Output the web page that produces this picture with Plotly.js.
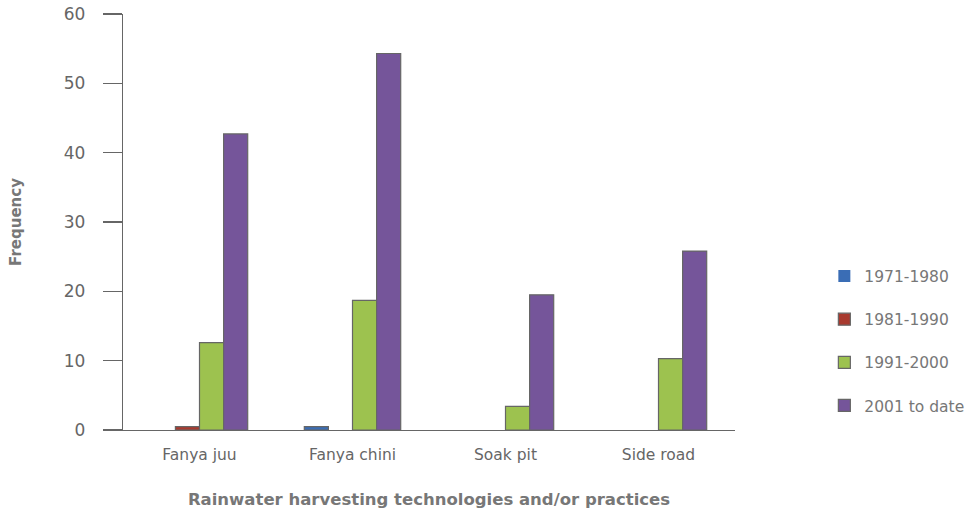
<!DOCTYPE html>
<html>
<head>
<meta charset="utf-8">
<script src="https://cdn.plot.ly/plotly-3.0.1.min.js"></script>
<style>html,body{margin:0;padding:0;background:#fff;}#chart{width:968px;height:512px;}</style>
</head>
<body>
<div id="chart"></div>
<script>
var categories = ["Fanya juu", "Fanya chini", "Soak pit", "Side road"];
var seriesNames = ["1971-1980", "1981-1990", "1991-2000", "2001 to date"];
var s1971 = [0, 0.5, 0, 0];
var s1981 = [0.5, 0, 0, 0];
var s1991 = [12.6, 18.7, 3.4, 10.3];
var s2001 = [42.7, 54.3, 19.5, 25.8];
var colors = ["#3A6DB5", "#A83A2F", "#9DC24F", "#75559A"];
var yTicks = [0, 10, 20, 30, 40, 50, 60];

var allSeries = [s1971, s1981, s1991, s2001];
var font = "'DejaVu Sans', 'Noto Sans', sans-serif";
var traces = allSeries.map(function (vals, i) {
  return {
    type: "bar",
    name: seriesNames[i],
    x: categories,
    y: vals,
    legendgroup: "g" + i,
    marker: { color: colors[i], line: { color: "#666", width: vals.map(function (v) { return v > 0 ? 1.2 : 0; }) } },
    hoverinfo: "x+y+name"
  };
});

var layout = {
  width: 968,
  height: 512,
  margin: { l: 123, r: 233, t: 14, b: 82, autoexpand: false },
  paper_bgcolor: "#fff",
  plot_bgcolor: "#fff",
  barmode: "group",
  bargap: 0.37,
  bargroupgap: 0,
  font: { family: font, color: "#777", size: 15 },
  xaxis: {
    showline: true, linecolor: "#666", linewidth: 1.3,
    ticks: "", showgrid: false, zeroline: false,
    tickfont: { size: 15.5, color: "#666" },
    ticklabelstandoff: 10,
    title: { text: "Rainwater harvesting technologies and/or practices",
             font: { size: 16.5, color: "#777", family: font, weight: "bold" }, standoff: 30 }
  },
  yaxis: {
    range: [0, 60], tickvals: yTicks, ticktext: yTicks.map(String),
    showline: true, linecolor: "#666", linewidth: 1.3,
    ticks: "outside", ticklen: 19, tickcolor: "#666", tickwidth: 1.3,
    showgrid: false, zeroline: false,
    tickfont: { size: 17, color: "#666" },
    ticklabelstandoff: 14,
    title: { text: "Frequency", font: { size: 15, color: "#777", family: font, weight: "bold" }, standoff: 38 }
  },
  legend: {
    x: 1.146, xanchor: "left", y: 0.41, yanchor: "top",
    traceorder: "grouped", tracegroupgap: 20,
    font: { size: 15.5, color: "#777" }
  },
  showlegend: true
};

Plotly.newPlot("chart", traces, layout, { displayModeBar: false, staticPlot: true });
</script>
</body>
</html>
